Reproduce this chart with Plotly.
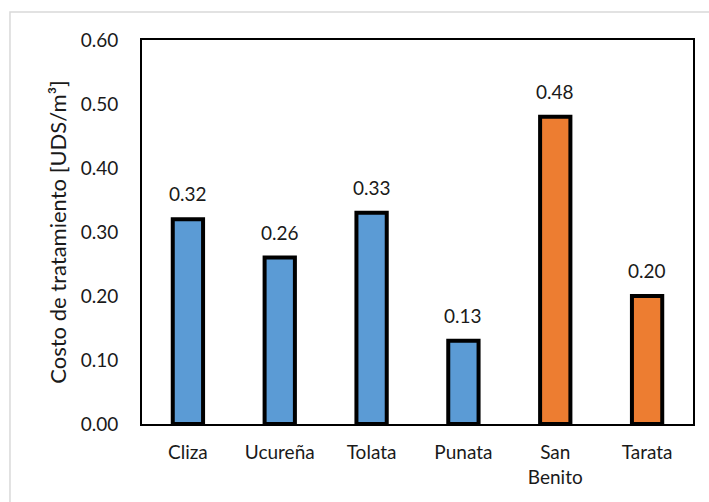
import plotly.graph_objects as go

categories = ["Cliza", "Ucureña", "Tolata", "Punata", "San<br>Benito", "Tarata"]
costs = [0.32, 0.26, 0.33, 0.13, 0.48, 0.20]
bar_colors = ["#5B9BD5", "#5B9BD5", "#5B9BD5", "#5B9BD5", "#ED7D31", "#ED7D31"]
y_ticks = [0.0, 0.1, 0.2, 0.3, 0.4, 0.5, 0.6]

FONT = "Lato, Carlito, Calibri, sans-serif"
TXT = "#1a1a1a"

fig = go.Figure(
    go.Bar(
        x=categories,
        y=costs,
        marker=dict(color=bar_colors, line=dict(color="black", width=4)),
        width=0.33,
    )
)

# value labels above each bar
for cat, val in zip(categories, costs):
    fig.add_annotation(
        x=cat, y=val, text=f"{val:.2f}", showarrow=False,
        yanchor="bottom", yshift=12,
        font=dict(size=19, family=FONT, color=TXT),
    )

fig.update_layout(
    width=709,
    height=502,
    margin=dict(l=142, r=16, t=40, b=78),
    paper_bgcolor="white",
    plot_bgcolor="white",
    showlegend=False,
    font=dict(family=FONT, size=19, color=TXT),
    shapes=[
        dict(
            type="rect", xref="paper", yref="paper",
            x0=-0.2396, x1=1.04, y0=-0.22, y1=1.0729,
            line=dict(color="#d9d9d9", width=1.5), layer="below",
        )
    ],
)

fig.update_xaxes(
    showline=True, linecolor="black", linewidth=2, mirror=True,
    showgrid=False, ticks="", ticklabelstandoff=10,
    tickfont=dict(size=19, family=FONT, color=TXT),
)
fig.update_yaxes(
    range=[0, 0.6], tickvals=y_ticks, tickformat=".2f",
    showline=True, linecolor="black", linewidth=2, mirror=True,
    showgrid=False, ticks="", zeroline=False, ticklabelstandoff=18,
    tickfont=dict(size=19, family=FONT, color=TXT),
    title=dict(text="Costo de tratamiento [UDS/m³]",
               font=dict(size=22, family=FONT, color=TXT), standoff=8),
)

fig.write_html("out.html")
